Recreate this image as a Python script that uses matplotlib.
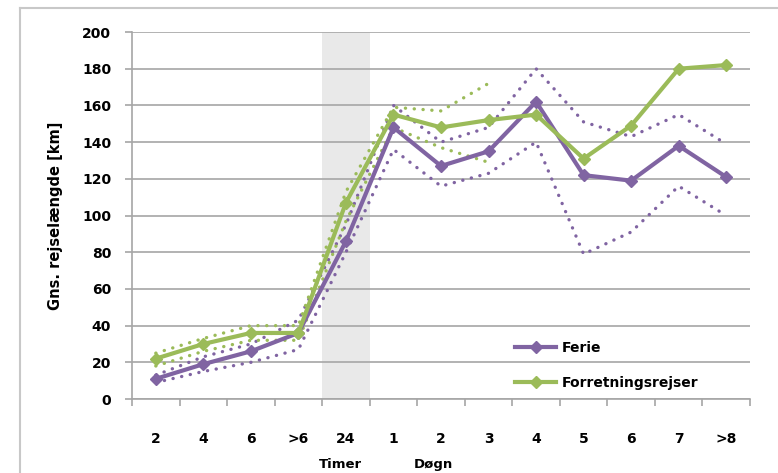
import matplotlib
matplotlib.use("Agg")
import matplotlib.pyplot as plt
from matplotlib.lines import Line2D

# ---------------------------------------------
# Data
# ---------------------------------------------
categories = ["2", "4", "6", ">6", "24", "1", "2", "3", "4", "5", "6", "7", ">8"]

ferie = [11, 19, 26, 36, 86, 148, 127, 135, 162, 122, 119, 138, 121]
ferie_upper = [13, 23, 30, 43, 95, 160, 140, 148, 180, 151, 143, 155, 139]
ferie_lower = [9, 15, 20, 27, 80, 136, 116, 123, 140, 79, 91, 116, 100]

forretning = [22, 30, 36, 36, 107, 155, 148, 152, 155, 131, 149, 180, 182]
forretning_upper = [25, 33, 40, 40, 113, 159, 157, 172]
forretning_lower = [18, 26, 32, 32, 97, 148, 137, 129]

PURPLE = "#8064A2"
GREEN = "#9BBB59"
GRID = "#a6a6a6"

plt.rcParams["font.family"] = ["DejaVu Sans"]

fig = plt.figure(figsize=(7.78, 4.73), dpi=100)
ax = fig.add_axes([0.1697, 0.1564, 0.964 - 0.1697, 0.9323 - 0.1564])

x = list(range(len(categories)))

# shaded "24 timer" band
ax.axvspan(3.5, 4.5, color="#e9e9e9", zorder=0, lw=0)

# dotted bounds
dot = dict(lw=2.4, linestyle=(0, (0.05, 2.6)), dash_capstyle="round", zorder=3)
ax.plot(x, ferie_upper, color=PURPLE, **dot)
ax.plot(x, ferie_lower, color=PURPLE, **dot)
ax.plot(x[:len(forretning_upper)], forretning_upper, color=GREEN, **dot)
ax.plot(x[:len(forretning_lower)], forretning_lower, color=GREEN, **dot)

# main series
ax.plot(x, ferie, color=PURPLE, lw=3.0, marker="D", markersize=6, zorder=4)
ax.plot(x, forretning, color=GREEN, lw=3.0, marker="D", markersize=6, zorder=5)

# axes
ax.set_ylim(0, 200)
ax.set_xlim(-0.5, 12.5)
ax.set_yticks(range(0, 201, 20))
ax.yaxis.grid(True, color=GRID, lw=1.2, zorder=1)
ax.set_axisbelow(True)
for s in ["top", "right"]:
    ax.spines[s].set_visible(False)
for s in ["left", "bottom"]:
    ax.spines[s].set_color(GRID)
    ax.spines[s].set_linewidth(1.2)

ax.set_xticks(x)
ax.set_xticklabels(categories, fontsize=10, fontweight="bold")
ax.set_xticks([i - 0.5 for i in range(len(categories) + 1)], minor=True)
ax.tick_params(axis="x", which="major", length=0, pad=24)
ax.tick_params(axis="x", which="minor", length=5, color=GRID, width=1.2)
ax.tick_params(axis="y", length=5, color=GRID, width=1.2, pad=10)
for lab in ax.get_yticklabels():
    lab.set_fontsize(10)
    lab.set_fontweight("bold")

ax.set_ylabel("Gns. rejselængde [km]", fontsize=10.5, fontweight="bold", labelpad=14)

# group labels under the axis
fig.text(340 / 778, 1 - 464 / 473, "Timer", fontsize=9.5, fontweight="bold",
         ha="center", va="center")
fig.text(433 / 778, 1 - 464 / 473, "Døgn", fontsize=9.5, fontweight="bold",
         ha="center", va="center")

# legend
handles = [
    Line2D([], [], color=PURPLE, lw=3.0, marker="D", markersize=6),
    Line2D([], [], color=GREEN, lw=3.0, marker="D", markersize=6),
]
leg = ax.legend(handles, ["Ferie", "Forretningsrejser"], frameon=False,
                loc="lower left", bbox_to_anchor=(0.599, -0.01), fontsize=10,
                handlelength=3.0, handletextpad=0.4, labelspacing=1.55)
for t in leg.get_texts():
    t.set_fontweight("bold")

# outer chart frame (left and top edges visible)
fig.add_artist(Line2D([20 / 778, 20 / 778], [0, 1 - 8 / 473], color="#c8c8c8", lw=1.5))
fig.add_artist(Line2D([20 / 778, 1], [1 - 8 / 473, 1 - 8 / 473], color="#c8c8c8", lw=1.5))

fig.savefig("out.png", dpi=100)
